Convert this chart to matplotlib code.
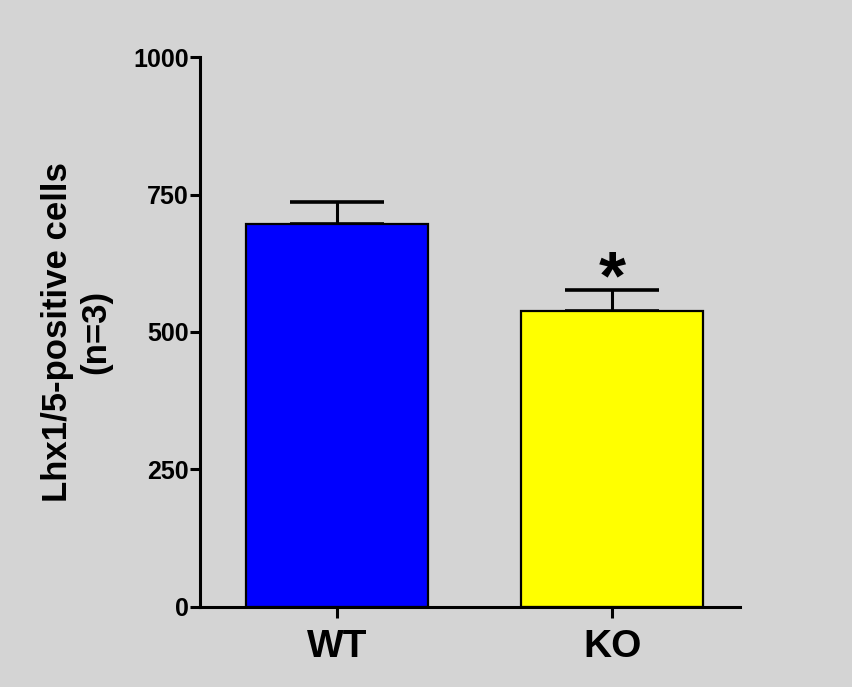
import matplotlib.pyplot as plt

groups = ["WT", "KO"]
means = [697, 538]
sem = [40, 38]
bar_colors = ["#0000ff", "#ffff00"]
yticks = [0, 250, 500, 750, 1000]

plt.rcParams["font.family"] = ["Liberation Sans", "DejaVu Sans"]
plt.rcParams["font.weight"] = "bold"

fig = plt.figure(figsize=(8.53, 6.87), dpi=100)
fig.patch.set_facecolor("#d4d4d4")
ax = fig.add_axes([0.2345, 0.1165, 0.633, 0.8005])
ax.set_facecolor("#d4d4d4")

x = range(len(groups))
ax.bar(x, means, width=0.66, color=bar_colors, edgecolor="black", linewidth=1.6, zorder=2)
ax.errorbar(x, means, yerr=[[0, 0], sem], fmt="none", ecolor="black",
            elinewidth=2.2, capsize=34, capthick=2.6, zorder=1)

# significance mark over KO
ax.text(1, means[1] + sem[1] - 40, "*", ha="center", va="bottom",
        fontsize=50, fontweight="bold")

ax.set_xlim(-0.498, 1.465)
ax.set_ylim(0, 1000)
ax.set_yticks(yticks)
ax.set_xticks(list(x))
ax.set_xticklabels(groups, fontsize=28, fontweight="bold")
ax.tick_params(axis="y", labelsize=18, width=2.2, length=7, pad=1)
ax.tick_params(axis="x", width=2.2, length=8, pad=8)
for lab in ax.get_yticklabels():
    lab.set_fontweight("bold")

for s in ["top", "right"]:
    ax.spines[s].set_visible(False)
for s in ["left", "bottom"]:
    ax.spines[s].set_linewidth(2.2)

ax.set_ylabel("Lhx1/5-positive cells\n(n=3)", fontsize=25, fontweight="bold", labelpad=15)

fig.savefig("out.png", dpi=100, facecolor=fig.get_facecolor())
